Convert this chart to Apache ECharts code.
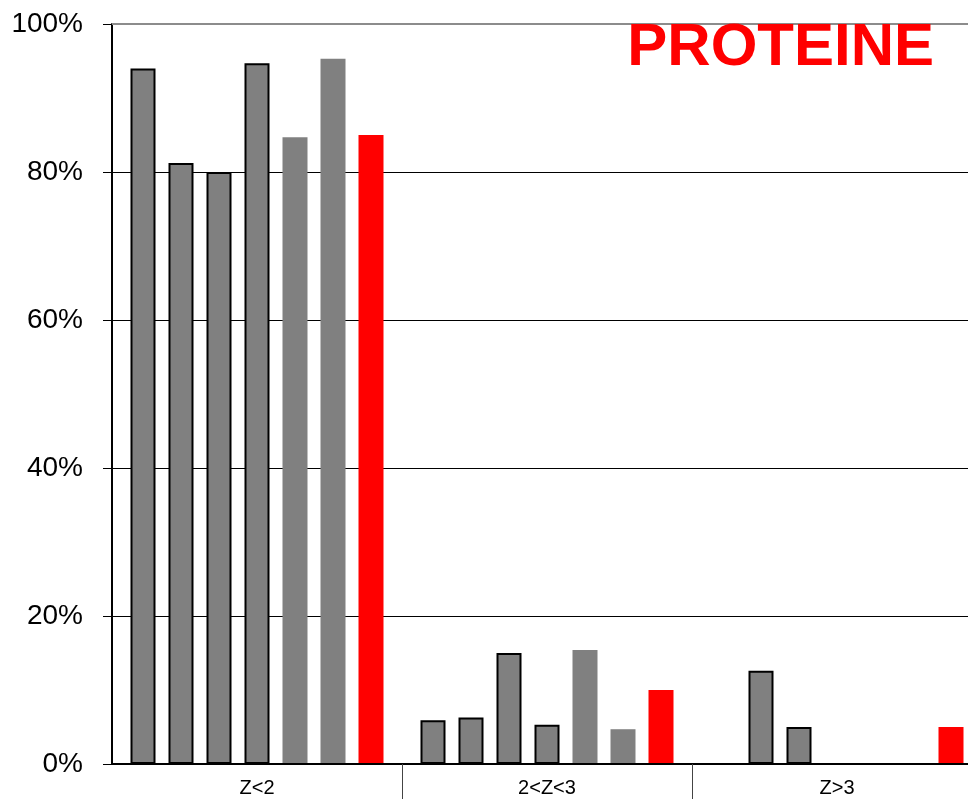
<!DOCTYPE html>
<html>
<head>
<meta charset="utf-8">
<script src="https://cdn.jsdelivr.net/npm/echarts@6/dist/echarts.min.js"></script>
<style>html,body{margin:0;padding:0;background:#fff;overflow:hidden;width:968px;height:799px;}#c{width:1000px;height:799px;}</style>
</head>
<body>
<div id="c"></div>
<script>
const categories = ['Z<2', '2<Z<3', 'Z>3'];
const s1 = [94.0, 5.9, 0];
const s2 = [81.2, 6.3, 12.6];
const s3 = [80.0, 15.0, 5.0];
const s4 = [94.7, 5.3, 0];
const s5 = [84.7, 15.4, 0];
const s6 = [95.3, 4.7, 0];
const s7 = [85.0, 10.0, 5.0];
const yTicks = [0, 20, 40, 60, 80, 100];
const titleText = 'PROTEINE';

const seriesData = [s1, s2, s3, s4, s5, s6, s7];
const styles = [
  {color: '#808080', borderColor: '#000', borderWidth: 2},
  {color: '#808080', borderColor: '#000', borderWidth: 2},
  {color: '#808080', borderColor: '#000', borderWidth: 2},
  {color: '#808080', borderColor: '#000', borderWidth: 2},
  {color: '#808080', borderWidth: 0},
  {color: '#808080', borderWidth: 0},
  {color: '#FF0000', borderWidth: 0}
];

const chart = echarts.init(document.getElementById('c'), null, {renderer: 'canvas'});
const series = seriesData.map((d, i) => ({
  name: 'Série ' + (i + 1),
  type: 'bar',
  data: d,
  barWidth: 25,
  barGap: '52%',
  itemStyle: styles[i],
  silent: true,
  z: 3
}));
series[0].markLine = {
  silent: true,
  symbol: 'none',
  label: {show: false},
  lineStyle: {color: '#8c8c8c', width: 2, type: 'solid'},
  data: [{yAxis: yTicks[yTicks.length - 1]}],
  z: 4
};

chart.setOption({
  animation: false,
  backgroundColor: '#fff',
  title: {
    text: titleText,
    right: 61,
    top: 13,
    textStyle: {color: '#FF0000', fontSize: 60, fontWeight: 'bold', fontFamily: 'Liberation Sans, Arial, sans-serif'}
  },
  grid: {left: 112, right: 18, top: 24, bottom: 35, containLabel: false},
  xAxis: {
    type: 'category',
    data: categories,
    axisLine: {lineStyle: {color: '#000', width: 2}},
    axisTick: {show: true, length: 35, interval: function (i) { return i > 0; }, lineStyle: {color: '#444', width: 1}},
    axisLabel: {color: '#000', fontSize: 20, margin: 14, fontFamily: 'Liberation Sans, Arial, sans-serif'},
    z: 5
  },
  yAxis: {
    type: 'value',
    min: yTicks[0],
    max: yTicks[yTicks.length - 1],
    interval: 20,
    axisLine: {show: true, lineStyle: {color: '#000', width: 2}},
    axisTick: {show: true, length: 9, lineStyle: {color: '#000', width: 1}},
    axisLabel: {color: '#000', fontSize: 28, margin: 29, formatter: '{value}%', fontFamily: 'Liberation Sans, Arial, sans-serif'},
    splitLine: {show: true, lineStyle: {color: '#000', width: 1}}
  },
  series: series
});
</script>
</body>
</html>
